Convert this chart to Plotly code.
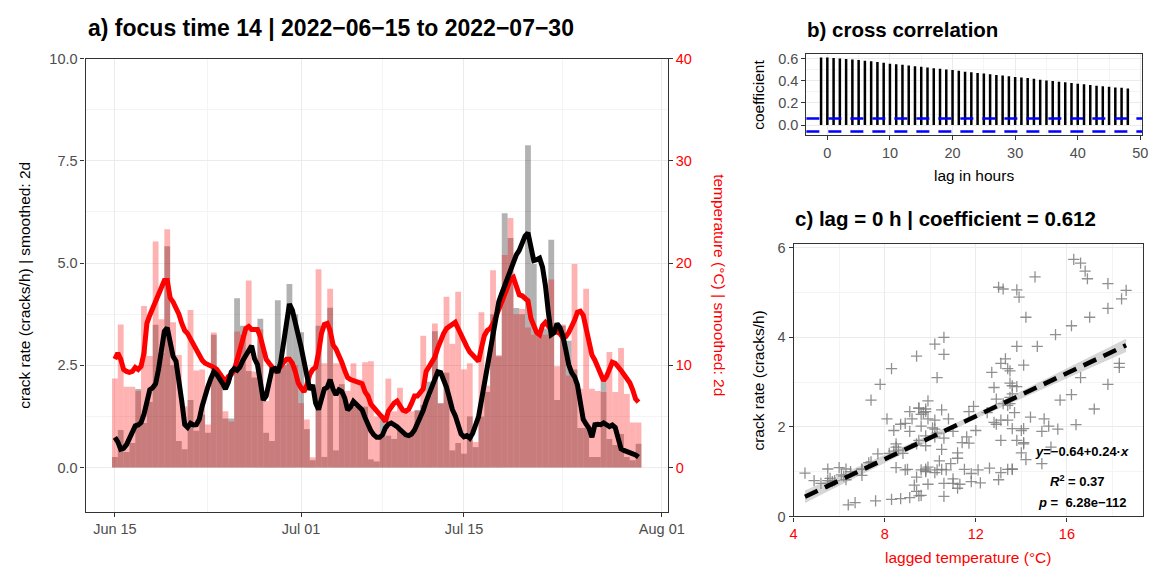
import numpy as np
import pandas as pd
import plotly.graph_objects as go

# ---------------- data ----------------
# 12-hourly crack rate (cracks/h) and temperature (°C), starting 2022-06-15 00:00
crack_bars = [
    0.26, 0.92, 0.38, 0.60, 1.92, 1.09, 1.60, 3.49, 2.80, 5.41,
    2.50, 0.65, 0.45, 1.65, 0.90, 1.30, 0.85, 3.25, 2.30, 1.20,
    1.20, 4.14, 3.47, 2.36, 2.20, 3.64, 0.85, 0.65, 4.09, 2.50,
    4.49, 3.75, 3.31, 0.94, 0.18, 3.47, 0.26, 3.91, 0.42, 2.04,
    1.49, 1.49, 1.49, 1.49, 0.20, 0.15, 1.25, 0.78, 0.70, 0.95,
    0.80, 0.80, 1.40, 1.53, 2.10, 3.33, 1.57, 2.32, 0.42, 0.60,
    0.34, 1.25, 0.50, 1.25, 1.85, 3.75, 2.72, 6.22, 5.61, 3.90,
    3.75, 7.88, 4.98, 3.27, 3.40, 5.57, 1.65, 3.47, 3.10, 2.40,
    0.97, 0.97, 0.26, 0.26, 2.11, 0.70, 0.55, 0.82, 0.26, 0.18,
    0.58,
]
temp_bars = [
    8.7, 14.0, 7.9, 7.9, 7.5, 15.8, 10.9, 22.1, 14.5, 23.3,
    14.2, 11.0, 6.0, 15.4, 9.5, 9.6, 4.2, 13.2, 9.0, 5.5,
    4.5, 13.3, 13.0, 18.3, 9.4, 13.5, 6.5, 9.8, 9.4, 10.0,
    10.2, 10.0, 6.3, 4.7, 1.0, 19.4, 10.2, 17.5, 10.2, 10.2,
    7.5, 10.2, 8.6, 10.3, 10.4, 5.0, 3.0, 8.7, 5.5, 7.8,
    5.5, 5.5, 5.6, 12.9, 7.0, 14.1, 6.3, 16.7, 12.1, 17.2,
    9.6, 10.2, 2.5, 15.2, 8.0, 19.3, 11.0, 20.8, 24.4, 15.0,
    15.5, 13.7, 13.0, 13.1, 13.0, 18.4, 9.9, 14.0, 9.0, 19.9,
    7.7, 17.5, 7.7, 7.5, 7.4, 11.3, 7.4, 11.7, 7.2, 4.4,
    4.4,
]

# 2-day smoothed series, every 6 h from 2022-06-15 00:00
crack_smooth = [
    0.74, 0.63, 0.45, 0.47, 0.56, 0.70, 0.88, 1.02, 1.04, 1.10,
    1.30, 1.65, 1.90, 1.95, 2.05, 2.40, 2.95, 3.33, 3.42, 3.10,
    2.72, 2.60, 2.18, 1.62, 1.05, 0.98, 1.08, 1.04, 1.05, 1.18,
    1.50, 1.78, 1.98, 2.18, 2.34, 2.28, 2.18, 2.06, 1.92, 2.08,
    2.34, 2.42, 2.38, 2.46, 2.62, 2.74, 2.90, 2.98, 2.66, 2.52,
    2.10, 1.65, 1.75, 2.15, 2.40, 2.42, 2.32, 2.58, 3.10, 3.62,
    4.00, 3.85, 3.58, 3.30, 2.95, 2.60, 2.18, 1.90, 2.02, 1.58,
    1.42, 1.70, 1.92, 1.96, 2.15, 1.92, 1.78, 1.90, 1.86, 1.70,
    1.41, 1.48, 1.62, 1.55, 1.46, 1.41, 1.22, 1.05, 0.90, 0.80,
    0.74, 0.74, 0.80, 0.97, 1.06, 1.09, 1.06, 1.00, 0.93, 0.85,
    0.80, 0.78, 0.82, 0.92, 1.06, 1.20, 1.40, 1.62, 1.80, 1.95,
    2.18, 2.34, 2.32, 2.15, 1.96, 1.70, 1.42, 1.27, 1.05, 0.82,
    0.75, 0.78, 0.72, 0.84, 1.04, 1.24, 1.64, 2.06, 2.48, 2.92,
    3.38, 3.80, 4.06, 4.26, 4.45, 4.65, 4.86, 5.05, 5.20, 5.31,
    5.48, 5.66, 5.74, 5.35, 5.06, 5.08, 5.12, 4.90, 4.45, 3.80,
    3.25, 3.30, 3.52, 3.42, 3.22, 2.88, 2.52, 2.32, 2.22, 2.02,
    1.55, 1.18, 1.06, 0.96, 0.74, 1.05, 1.06, 1.05, 1.09, 1.04,
    1.00, 1.04, 0.98, 0.72, 0.46, 0.42, 0.40, 0.38, 0.35, 0.31,
    0.26,
]
temp_smooth = [
    10.6, 11.2, 10.6, 9.6, 9.4, 9.3, 9.4, 9.8, 9.6, 9.9,
    11.2, 14.1, 14.9, 15.6, 16.4, 17.2, 17.8, 18.3, 18.3, 16.6,
    16.2, 15.7, 15.0, 14.1, 13.4, 13.1, 12.6, 12.1, 11.5, 10.9,
    10.5, 10.2, 10.1, 9.9, 9.8, 9.6, 9.2, 8.7, 8.4, 8.9,
    9.1, 9.5, 10.5, 11.9, 12.9, 13.6, 13.8, 13.5, 13.5, 13.5,
    12.8, 11.4, 10.6, 10.2, 9.8, 9.5, 9.7, 9.9, 10.3, 10.6,
    10.6, 10.2, 9.4, 8.3, 7.8, 7.4, 8.1, 9.1, 9.6, 9.8,
    11.2, 13.1, 14.0, 14.1, 13.4, 12.0, 11.6, 11.0, 10.3, 9.5,
    8.8, 8.6, 8.5, 8.5, 8.4, 8.2, 7.4, 7.0, 6.2, 5.8,
    5.5, 5.2, 4.9, 4.5, 5.5, 6.0, 6.3, 6.5, 6.1, 5.6,
    5.5, 5.7, 6.3, 7.0, 7.0, 7.3, 7.7, 9.4, 9.8, 10.2,
    10.8, 11.7, 12.5, 13.1, 13.6, 13.8, 14.0, 14.2, 13.6, 13.0,
    12.2, 11.8, 11.3, 11.0, 10.7, 10.4, 11.7, 12.9, 13.4, 13.6,
    14.1, 14.7, 15.5, 16.2, 17.0, 17.8, 18.4, 18.6, 17.8, 16.9,
    16.8, 16.6, 16.3, 14.6, 13.8, 13.2, 13.0, 13.9, 14.2, 13.8,
    13.5, 13.4, 13.3, 13.1, 12.7, 12.8, 13.2, 13.7, 14.4, 15.2,
    15.3, 14.9, 13.6, 11.8, 11.0, 10.5, 9.8, 9.0, 8.5, 8.9,
    9.8, 10.3, 10.2, 9.9, 9.5, 9.1, 8.7, 8.3, 7.6, 6.7,
    6.4,
]

# cross correlation, lags in hours
ccf_lags = list(range(-1, 49))
ccf_values = [
    0.611, 0.612, 0.607, 0.603, 0.597, 0.594, 0.589, 0.583, 0.577, 0.571,
    0.565, 0.556, 0.550, 0.545, 0.539, 0.533, 0.527, 0.521, 0.515, 0.510,
    0.504, 0.498, 0.492, 0.483, 0.477, 0.471, 0.466, 0.460, 0.454, 0.448,
    0.442, 0.436, 0.430, 0.425, 0.419, 0.410, 0.404, 0.398, 0.392, 0.387,
    0.381, 0.375, 0.369, 0.363, 0.357, 0.351, 0.346, 0.340, 0.337, 0.331,
]
ccf_ci = 0.059

# linear fit reported in panel c (fitted on the hourly record)
fit_intercept = -0.64
fit_slope = 0.24
fit_r2 = "0.37"
fit_p = "6.28e\u2212112"
n_hourly = 45 * 24 + 1

temp_scale = 4.0  # secondary axis: temperature = 4 x primary units

date_ticks = ["2022-06-15", "2022-07-01", "2022-07-15", "2022-08-01"]
date_ticktext = ["Jun 15", "Jul 01", "Jul 15", "Aug 01"]
date_minor = ["2022-06-23", "2022-07-08", "2022-07-23 12:00"]

# ---------------- figure ----------------
W, H = 1172, 576
FONT = "Liberation Sans, Arial, sans-serif"
GRID = "#ebebeb"
GRID_MINOR = "#f4f4f4"
TICKTXT = "#4d4d4d"
FRAME = "#333333"


def fx(p):
    return p / W


def fy(p):
    return 1 - p / H


bar_times = pd.date_range("2022-06-15", periods=len(crack_bars), freq="12h")
line_times = pd.date_range("2022-06-15", periods=len(crack_smooth), freq="6h")
bar_width_ms = 12 * 3600 * 1000

temp_bars_scaled = [v / temp_scale for v in temp_bars]
temp_smooth_scaled = [v / temp_scale for v in temp_smooth]

fig = go.Figure()

# panel a
fig.add_trace(go.Bar(x=bar_times, y=crack_bars, width=bar_width_ms,
                     marker=dict(color="rgba(0,0,0,0.3)", line=dict(width=0)),
                     xaxis="x", yaxis="y", hoverinfo="skip"))
fig.add_trace(go.Bar(x=bar_times, y=temp_bars_scaled, width=bar_width_ms,
                     marker=dict(color="rgba(255,0,0,0.3)", line=dict(width=0)),
                     xaxis="x", yaxis="y", hoverinfo="skip"))
fig.add_trace(go.Scatter(x=line_times, y=temp_smooth_scaled, mode="lines",
                         line=dict(color="#ff0000", width=5),
                         xaxis="x", yaxis="y", hoverinfo="skip"))
fig.add_trace(go.Scatter(x=line_times, y=crack_smooth, mode="lines",
                         line=dict(color="#000000", width=5),
                         xaxis="x", yaxis="y", hoverinfo="skip"))
# carrier for the secondary temperature axis
fig.add_trace(go.Scatter(x=[line_times[0]], y=[temp_smooth[0]], mode="markers",
                         marker=dict(opacity=0), xaxis="x", yaxis="y2",
                         hoverinfo="skip"))

# panel b
fig.add_trace(go.Bar(x=ccf_lags, y=ccf_values, width=0.4,
                     marker=dict(color="#000000", line=dict(width=0)),
                     xaxis="x2", yaxis="y3", hoverinfo="skip"))

# panel c
tx = np.array(temp_smooth)
cy = np.array(crack_smooth)
resid = cy - (fit_intercept + fit_slope * tx)
s = np.sqrt((resid ** 2).sum() / (len(tx) - 2))
xg = np.linspace(tx.min(), tx.max(), 80)
var_x = ((tx - tx.mean()) ** 2).mean()
se = s * np.sqrt(1 / n_hourly + (xg - tx.mean()) ** 2 / (n_hourly * var_x))
yfit = fit_intercept + fit_slope * xg
band = 1.96 * se

fig.add_trace(go.Scatter(x=tx, y=cy, mode="markers",
                         marker=dict(symbol="cross-thin", size=8,
                                     line=dict(width=1.3, color="rgba(125,125,125,0.85)")),
                         xaxis="x3", yaxis="y4", hoverinfo="skip"))
fig.add_trace(go.Scatter(x=np.concatenate([xg, xg[::-1]]),
                         y=np.concatenate([yfit + band, (yfit - band)[::-1]]),
                         fill="toself", fillcolor="rgba(153,153,153,0.4)",
                         line=dict(width=0), mode="lines",
                         xaxis="x3", yaxis="y4", hoverinfo="skip"))
fig.add_trace(go.Scatter(x=[xg[0], xg[-1]], y=[yfit[0], yfit[-1]], mode="lines",
                         line=dict(color="#000000", width=4.5, dash="14px,8px"),
                         xaxis="x3", yaxis="y4", hoverinfo="skip"))

tickfont = dict(family=FONT, size=14.5, color=TICKTXT)
red_tickfont = dict(family=FONT, size=14.5, color="#ff0000")


def frame_axis(**kw):
    base = dict(showline=True, mirror=True, linecolor=FRAME, linewidth=1.1,
                ticks="outside", ticklen=4, tickcolor=FRAME, tickwidth=1.1,
                showgrid=True, gridcolor=GRID, gridwidth=1.3, zeroline=False,
                tickfont=tickfont, fixedrange=True)
    base.update(kw)
    return base


fig.update_layout(
    width=W, height=H, autosize=False,
    margin=dict(l=0, r=0, t=0, b=0),
    paper_bgcolor="white", plot_bgcolor="white",
    showlegend=False, barmode="overlay",
    font=dict(family=FONT, color="#000000"),
    xaxis=frame_axis(type="date", domain=[fx(83), fx(676)], anchor="y",
                     range=["2022-06-12 11:24", "2022-08-01 12:36"],
                     tickvals=date_ticks, ticktext=date_ticktext,
                     minor=dict(tickvals=date_minor, showgrid=True,
                                gridcolor=GRID_MINOR, gridwidth=1, ticks="")),
    yaxis=frame_axis(domain=[fy(518), fy(52)], anchor="x",
                     range=[-1.077, 10],
                     tickvals=[0, 2.5, 5, 7.5, 10],
                     ticktext=["0.0", "2.5", "5.0", "7.5", "10.0"],
                     minor=dict(tickvals=[1.25, 3.75, 6.25, 8.75], showgrid=True,
                                gridcolor=GRID_MINOR, gridwidth=1, ticks="")),
    yaxis2=dict(overlaying="y", side="right", anchor="x",
                range=[-1.077 * temp_scale, 10 * temp_scale],
                tickvals=[0, 10, 20, 30, 40],
                ticks="outside", ticklen=4, tickcolor=FRAME, tickwidth=1.1,
                showgrid=False, zeroline=False, showline=False,
                tickfont=red_tickfont, fixedrange=True),
    xaxis2=frame_axis(domain=[fx(817), fx(1159)], anchor="y3",
                      range=[-3.35, 50.3],
                      tickvals=[0, 10, 20, 30, 40, 50],
                      minor=dict(tickvals=[5, 15, 25, 35, 45], showgrid=True,
                                 gridcolor=GRID_MINOR, gridwidth=1, ticks="")),
    yaxis3=frame_axis(domain=[fy(131), fy(47)], anchor="x2",
                      range=[-0.093, 0.646],
                      tickvals=[0, 0.2, 0.4, 0.6],
                      ticktext=["0.0", "0.2", "0.4", "0.6"],
                      minor=dict(tickvals=[0.1, 0.3, 0.5], showgrid=True,
                                 gridcolor=GRID_MINOR, gridwidth=1, ticks="")),
    xaxis3=frame_axis(domain=[fx(804), fx(1160)], anchor="y4",
                      range=[4, 19.35],
                      tickvals=[4, 8, 12, 16], tickfont=red_tickfont,
                      minor=dict(tickvals=[6, 10, 14, 18], showgrid=True,
                                 gridcolor=GRID_MINOR, gridwidth=1, ticks="")),
    yaxis4=frame_axis(domain=[fy(523), fy(243)], anchor="x3",
                      range=[0, 6.08],
                      tickvals=[0, 2, 4, 6],
                      minor=dict(tickvals=[1, 3, 5], showgrid=True,
                                 gridcolor=GRID_MINOR, gridwidth=1, ticks="")),
)

# confidence bounds of the cross correlation
for level in (ccf_ci, -ccf_ci):
    fig.add_shape(type="line", xref="x2 domain", yref="y3",
                  x0=0, x1=1, y0=level, y1=level,
                  line=dict(color="#0000ff", width=2.5, dash="13px,9px"))

annotations = [
    # titles
    dict(text="<b>a) focus time 14 | 2022\u221206\u221215 to 2022\u221207\u221230</b>",
         x=fx(84), y=fy(21), xanchor="left", yanchor="middle",
         font=dict(size=23, color="#000000")),
    dict(text="<b>b) cross correlation</b>",
         x=fx(816), y=fy(22), xanchor="left", yanchor="middle",
         font=dict(size=20.5, color="#000000")),
    dict(text="<b>c) lag = 0 h | coefficient = 0.612</b>",
         x=fx(803), y=fy(216), xanchor="left", yanchor="middle",
         font=dict(size=20.5, color="#000000")),
    # axis titles
    dict(text="crack rate (cracks/h) | smoothed: 2d",
         x=fx(20), y=fy(285), textangle=-90, xanchor="center", yanchor="middle",
         font=dict(size=15.5, color="#000000")),
    dict(text="temperature (\u00b0C) | smoothed: 2d",
         x=fx(729), y=fy(285), textangle=90, xanchor="center", yanchor="middle",
         font=dict(size=15.5, color="#ff0000")),
    dict(text="coefficient",
         x=fx(768), y=fy(89), textangle=-90, xanchor="center", yanchor="middle",
         font=dict(size=15.5, color="#000000")),
    dict(text="lag in hours",
         x=fx(988), y=fy(172), xanchor="center", yanchor="middle",
         font=dict(size=15.5, color="#000000")),
    dict(text="crack rate (cracks/h)",
         x=fx(768), y=fy(383), textangle=-90, xanchor="center", yanchor="middle",
         font=dict(size=15.5, color="#000000")),
    dict(text="lagged temperature (\u00b0C)",
         x=fx(982), y=fy(565), xanchor="center", yanchor="middle",
         font=dict(size=15.5, color="#ff0000")),
    # fit statistics
    dict(text=f"<b><i>y</i>=\u2212{abs(fit_intercept):.2f}+{fit_slope:.2f}\u00b7<i>x</i></b>",
         x=fx(1098), y=fy(456), xanchor="center", yanchor="middle",
         font=dict(size=13, color="#000000")),
    dict(text=f"<b><i>R</i><sup>2</sup> = {fit_r2}</b>",
         x=fx(1093), y=fy(487), xanchor="center", yanchor="middle",
         font=dict(size=13, color="#000000")),
    dict(text=f"<b><i>p</i> =  {fit_p}</b>",
         x=fx(1098), y=fy(509), xanchor="center", yanchor="middle",
         font=dict(size=13, color="#000000")),
]
for a in annotations:
    a.update(xref="paper", yref="paper", showarrow=False)
    a["font"]["family"] = FONT
fig.update_layout(annotations=annotations)

fig.write_html("out.html")
